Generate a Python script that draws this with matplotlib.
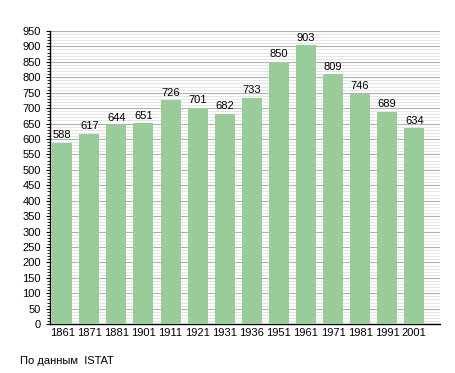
import matplotlib
matplotlib.use('Agg')
import matplotlib.pyplot as plt
from matplotlib.ticker import MultipleLocator

years = ['1861', '1871', '1881', '1901', '1911', '1921', '1931', '1936',
         '1951', '1961', '1971', '1981', '1991', '2001']
population = [588, 617, 644, 651, 726, 701, 682, 733, 850, 903, 809, 746, 689, 634]

plt.rcParams['font.family'] = ['Liberation Sans', 'DejaVu Sans']

fig = plt.figure(figsize=(4.55, 3.73), dpi=100)
ax = fig.add_axes([0.110, 0.131, 0.857, 0.786])

x = list(range(len(years)))
ax.bar(x, population, width=0.74, color='#99cc99', zorder=3)
for xi, v in zip(x, population):
    ax.text(xi, v + 8, str(v), ha='center', va='bottom', fontsize=8, zorder=4)

ax.set_ylim(0, 950)
ax.set_xlim(-0.45, 13.95)
ax.yaxis.set_major_locator(MultipleLocator(50))
ax.yaxis.set_minor_locator(MultipleLocator(10))
ax.grid(axis='y', which='major', color='#b0b0b0', linewidth=0.8, zorder=0)
ax.grid(axis='y', which='minor', color='#e0e0e0', linewidth=0.6, zorder=0)
ax.set_xticks(x)
ax.set_xticklabels(years)
ax.tick_params(axis='both', labelsize=8, length=3, color='black')
ax.tick_params(axis='y', which='minor', length=2)
ax.tick_params(axis='x', length=0, pad=3)
for s in ['top', 'right']:
    ax.spines[s].set_visible(False)
ax.spines['left'].set_linewidth(1.0)
ax.spines['bottom'].set_linewidth(1.0)

fig.text(0.045, 0.018, 'По данным  ISTAT', fontsize=8, ha='left', va='bottom')

fig.savefig('out.png', dpi=100)
